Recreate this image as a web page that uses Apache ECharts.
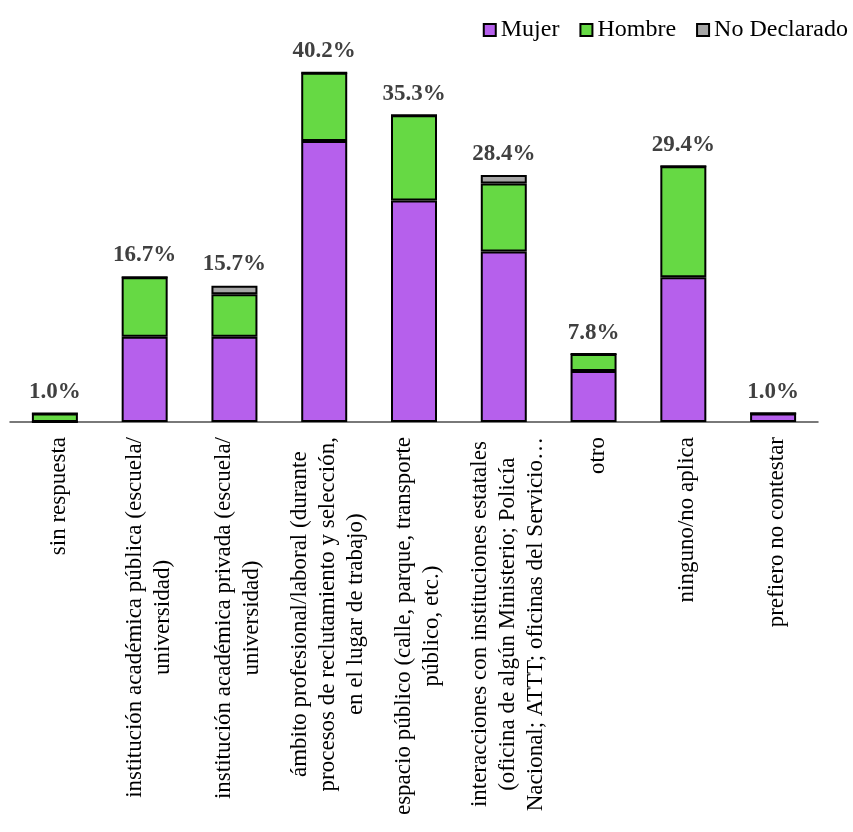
<!DOCTYPE html>
<html>
<head>
<meta charset="utf-8">
<script src="https://cdn.jsdelivr.net/npm/echarts@6/dist/echarts.min.js"></script>
<style>
html,body{margin:0;padding:0;background:#fff;}
#chart{width:853px;height:832px;}
</style>
</head>
<body>
<div id="chart"></div>
<script>
const categories = [
  "sin respuesta",
  "institución académica pública (escuela/\nuniversidad)",
  "institución académica privada (escuela/\nuniversidad)",
  "ámbito profesional/laboral (durante\nprocesos de reclutamiento y selección,\nen el lugar de trabajo)",
  "espacio público (calle, parque, transporte\npúblico, etc.)",
  "interacciones con instituciones estatales\n(oficina de algún Ministerio; Policía\nNacional; ATTT; oficinas del Servicio…",
  "otro",
  "ninguno/no aplica",
  "prefiero no contestar"
];
const mujer       = [0, 9.80, 9.80, 32.35, 25.49, 19.61, 5.88, 16.67, 0.98];
const hombre      = [0.98, 6.86, 4.90, 7.84, 9.80, 7.84, 1.96, 12.75, 0];
const noDeclarado = [0, 0, 0.98, 0, 0, 0.98, 0, 0, 0];
const totals      = [1.0, 16.7, 15.7, 40.2, 35.3, 28.4, 7.8, 29.4, 1.0];

const FONT = '"Liberation Serif", "Times New Roman", serif';
const chart = echarts.init(document.getElementById('chart'), null, {renderer: 'canvas'});

const barStyle = (color) => ({color: color, borderColor: '#000', borderWidth: 2});

chart.setOption({
  animation: false,
  backgroundColor: '#fff',
  textStyle: {fontFamily: FONT},
  legend: {
    data: ['Mujer', 'Hombre', 'No Declarado'],
    right: 0,
    top: 13,
    itemWidth: 12,
    itemHeight: 12,
    itemGap: 20,
    icon: 'rect',
    textStyle: {fontFamily: FONT, fontSize: 24, color: '#000'}
  },
  grid: {left: 10, right: 35, top: 31, bottom: 410, containLabel: false},
  xAxis: {
    type: 'category',
    data: categories,
    axisLine: {show: true, lineStyle: {color: '#4d4d4d', width: 1.5}},
    axisTick: {show: false},
    axisLabel: {
      interval: 0,
      rotate: 90,
      margin: 15,
      color: '#000',
      fontFamily: FONT,
      fontSize: 23,
      lineHeight: 28,
      padding: [8, 0, 0, 0],
      formatter: function (v) {
        return v.split('\n').map(s => '{c|' + s + '}').join('\n');
      },
      rich: {
        c: {align: 'center', fontFamily: FONT, fontSize: 23, lineHeight: 28, color: '#000'}
      }
    }
  },
  yAxis: {
    type: 'value',
    min: 0,
    max: 45,
    show: false,
    splitLine: {show: false}
  },
  series: [
    {name: 'Mujer', type: 'bar', stack: 't', data: mujer, barWidth: 46, itemStyle: barStyle('#B660EC')},
    {name: 'Hombre', type: 'bar', stack: 't', data: hombre, barWidth: 46, itemStyle: barStyle('#66D944')},
    {name: 'No Declarado', type: 'bar', stack: 't', data: noDeclarado, barWidth: 46, itemStyle: barStyle('#A6A6A6')},
    {
      name: 'Total', type: 'scatter', data: totals, symbolSize: 0, silent: true,
      itemStyle: {opacity: 1},
      label: {
        show: true, position: 'top', distance: 10, opacity: 1,
        fontFamily: FONT, fontSize: 23, fontWeight: 'bold', color: '#404040',
        formatter: p => p.value.toFixed(1) + '%'
      }
    }
  ]
});
</script>
</body>
</html>
